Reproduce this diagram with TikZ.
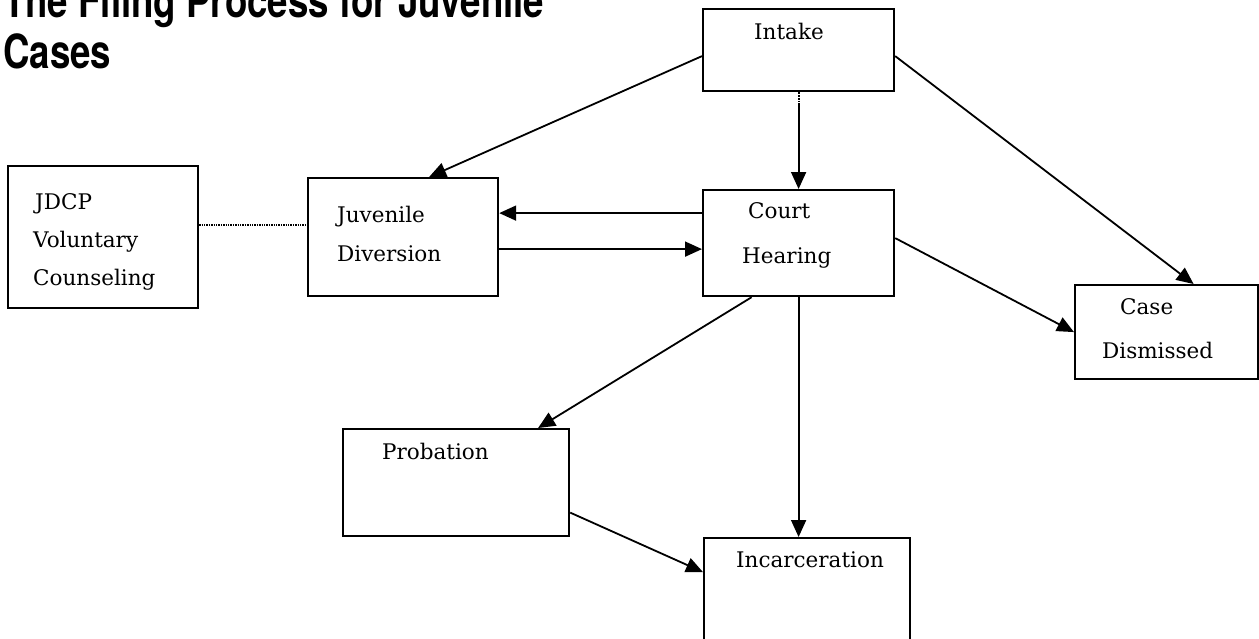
\documentclass[tikz,border=0pt]{standalone}
\usepackage{fontspec}
\setmainfont{DejaVu Serif}
\newfontfamily\titlefont{TeX Gyre Heros}
\usetikzlibrary{arrows.meta}

\tikzset{
  stage/.style={draw, line width=2.2pt, inner sep=0pt, anchor=north west},
  stagetext/.style={inner sep=0pt, anchor=base west, align=left,
    font=\fontsize{21.5}{24}\selectfont},
  flow/.style={line width=1.8pt, -{Triangle[length=17pt,width=15pt]}},
}

\begin{document}
\begin{tikzpicture}[x=1pt,y=-1pt]
  \useasboundingbox (0,0) rectangle (1259,638);

  % title (base = last line)
  \node [anchor=base west, inner sep=0pt, align=left, xscale=0.78, transform shape,
    font=\titlefont\bfseries\fontsize{47}{51}\selectfont] (title) at (3,68)
    {The Filing Process for Juvenile\\Cases};

  % boxes
  \node [stage, minimum width=191, minimum height=82]  (intake) at (702,8) {};
  \node [stage, minimum width=190, minimum height=142] (jdcp)   at (7,165) {};
  \node [stage, minimum width=190, minimum height=118] (juv)    at (307,177) {};
  \node [stage, minimum width=191, minimum height=106] (court)  at (702,189) {};
  \node [stage, minimum width=183, minimum height=94]  (case)   at (1074,284) {};
  \node [stage, minimum width=226, minimum height=107] (prob)   at (342,428) {};
  \node [stage, minimum width=206, minimum height=110] (inc)    at (703,537) {};

  % texts (base = last line)
  \node [stagetext] (intake-t) at (754,39) {Intake};
  \node [stagetext] (jdcp-t) at (33,285)
    {\hspace*{2pt}JDCP\\[14pt]Voluntary\\[14pt]Counseling};
  \node [stagetext] (juv-t) at (337,261) {Juvenile\\[15pt]Diversion};
  \node [stagetext] (court-t) at (742,263) {\hspace*{6pt}Court\\[21pt]Hearing};
  \node [stagetext] (case-t) at (1102,358) {\hspace*{18pt}Case\\[20pt]Dismissed};
  \node [stagetext] (prob-t) at (382,459) {Probation};
  \node [stagetext] (inc-t) at (736,567) {Incarceration};

  % connectors
  \draw [flow] ([yshift=-6pt]intake.west) -- ([xshift=26pt]juv.north);
  \draw [line width=1.8pt, densely dotted] (intake.south) -- ++(0,12) coordinate (ih);
  \draw [flow] (ih) -- (court.north);
  \draw [flow] ([yshift=-6pt]intake.east) -- ([xshift=27pt]case.north);

  \draw [flow] ([yshift=30pt]court.west) coordinate (cw) -- (cw -| juv.east);
  \draw [flow] ([yshift=-12pt]juv.east) coordinate (je) -- (je -| court.west);
  \draw [line width=1.4pt, densely dotted] ([yshift=12pt]jdcp.east) coordinate (de)
    -- (de -| juv.west);

  \draw [flow] ([yshift=5pt]court.east) -- (case.west);
  \draw [flow] ([xshift=-47pt]court.south) -- ([xshift=82pt]prob.north);
  \draw [flow] (court.south) -- (court.south |- inc.north);
  \draw [flow] ([yshift=-30pt]prob.east) -- ([yshift=21pt]inc.west);
\end{tikzpicture}
\end{document}
